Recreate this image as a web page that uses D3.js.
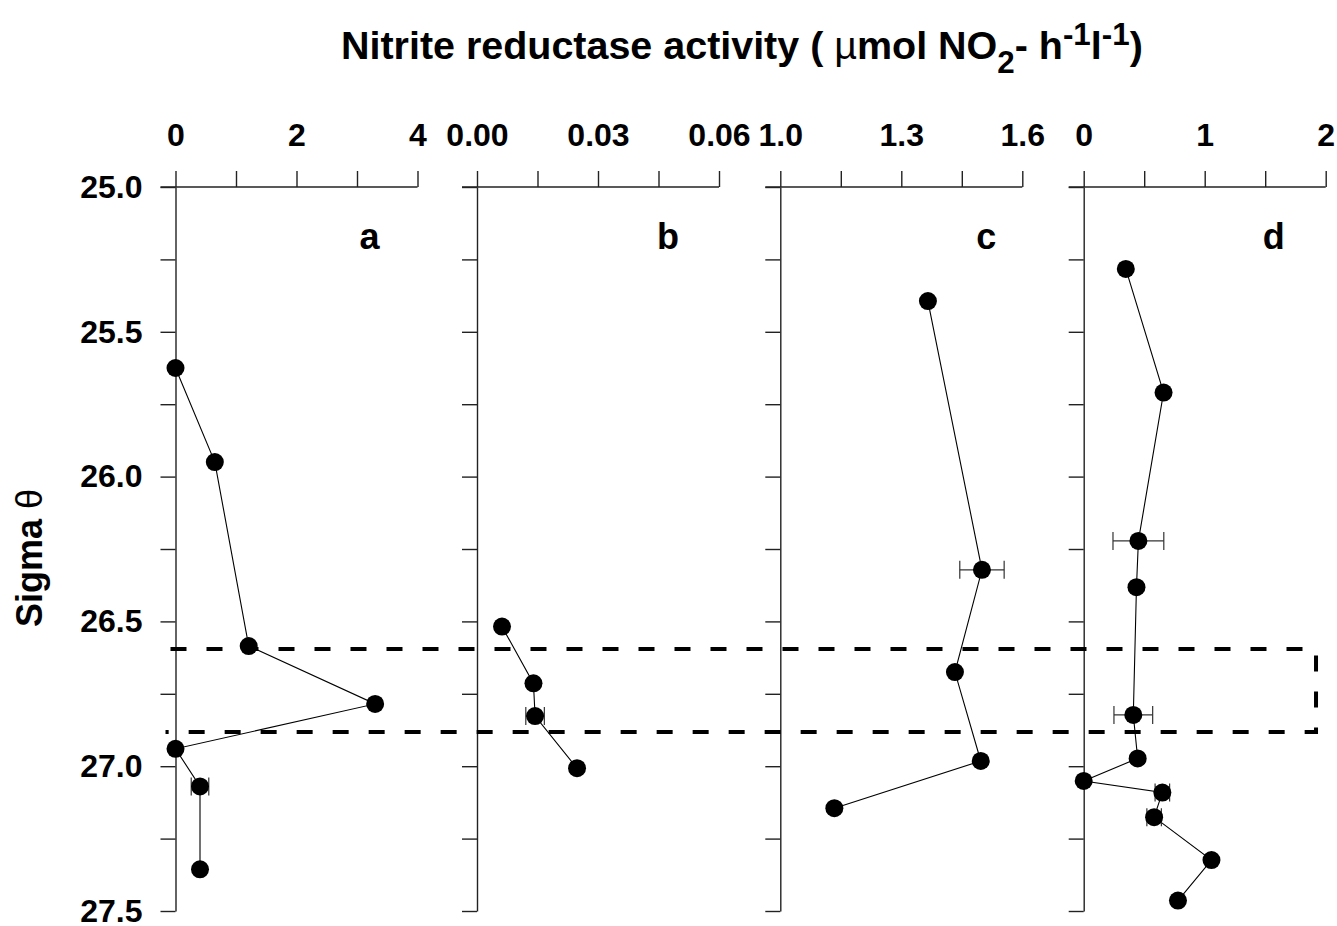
<!DOCTYPE html>
<html>
<head>
<meta charset="utf-8">
<script src="https://cdn.jsdelivr.net/npm/d3@7"></script>
<style>
  body { margin: 0; background: #fff; }
  svg { font-family: "Liberation Sans", Arial, sans-serif; }
</style>
</head>
<body>
<div id="chart"></div>
<script>
// sigma-theta depth axis
const yDomain = [25.0, 27.5];
const yTicks = [25.0, 25.25, 25.5, 25.75, 26.0, 26.25, 26.5, 26.75, 27.0, 27.25, 27.5];
const yLabels = [25.0, 25.5, 26.0, 26.5, 27.0, 27.5];

// panel a
const aSigma = [25.625, 25.95, 26.585, 26.785, 26.94, 27.07, 27.356];
const aValue = [0, 0.65, 1.21, 3.30, 0, 0.405, 0.405];
const aErr   = [0, 0, 0, 0, 0, 0.145, 0];

// panel b
const bSigma = [26.518, 26.714, 26.827, 27.007];
const bValue = [0.0062, 0.014, 0.0144, 0.0248];
const bErr   = [0, 0, 0.0023, 0];

// panel c
const cSigma = [25.394, 26.322, 26.675, 26.982, 27.145];
const cValue = [1.366, 1.500, 1.433, 1.497, 1.134];
const cErr   = [0, 0.055, 0, 0, 0];

// panel d
const dSigma = [25.283, 25.71, 26.222, 26.382, 26.823, 26.973, 27.051, 27.091, 27.176, 27.324, 27.464];
const dValue = [0.348, 0.66, 0.452, 0.436, 0.41, 0.446, 0, 0.65, 0.582, 1.056, 0.779];
const dErr   = [0, 0, 0.21, 0, 0.16, 0, 0, 0.06, 0.06, 0, 0];

// x axes
const panelNames = ['a', 'b', 'c', 'd'];
const xDomains = [[0, 4], [0, 0.06], [1.0, 1.6], [0, 2]];
const xTicks = [
    [0, 1, 2, 3, 4],
    [0, 0.015, 0.03, 0.045, 0.06],
    [1.0, 1.15, 1.3, 1.45, 1.6],
    [0, 0.5, 1, 1.5, 2]
];
const xLabels = [
    ['0', '', '2', '', '4'],
    ['0.00', '', '0.03', '', '0.06'],
    ['1.0', '', '1.3', '', '1.6'],
    ['0', '', '1', '', '2']
];

// suboxic layer marked by dashed box
const boxSigma = [26.595, 26.882];
const boxRight = 1.92; // in panel d units

const state = {
    width: 1337,
    height: 926,
    top: 187,
    bottom: 911,
    panelLeft: [175.5, 477, 780.3, 1083.7],
    panelWidth: 242,
    labelDx: [194, 191, 206, 190],
    ink: '#000',
    axisColor: '#222'
};

const panels = [
    {sigma: aSigma, value: aValue, err: aErr},
    {sigma: bSigma, value: bValue, err: bErr},
    {sigma: cSigma, value: cValue, err: cErr},
    {sigma: dSigma, value: dValue, err: dErr}
];

const svg = d3.select('#chart')
    .append('svg')
        .attr('width', state.width)
        .attr('height', state.height);

const y = d3.scaleLinear().domain(yDomain).range([state.top, state.bottom]);

let xScales = [];

panels.forEach((p, i) => {
    let left = state.panelLeft[i];
    let x = d3.scaleLinear().domain(xDomains[i]).range([left, left + state.panelWidth]);
    xScales.push(x);

    let g = svg.append('g');

    // top axis
    let xAxis = d3.axisTop(x)
        .tickValues(xTicks[i])
        .tickFormat((d, k) => xLabels[i][k])
        .tickSize(16)
        .tickSizeOuter(0)
        .tickPadding(25);
    let gx = g.append('g')
        .attr('transform', `translate(0,${state.top})`)
        .call(xAxis);
    gx.select('.domain').remove();
    gx.append('line')
        .attr('x1', left - 15)
        .attr('x2', left + state.panelWidth)
        .attr('stroke', state.axisColor)
        .attr('stroke-width', 1.4);

    // left axis
    let yAxis = d3.axisLeft(y)
        .tickValues(yTicks)
        .tickFormat(d => (i == 0 && yLabels.includes(d)) ? d3.format('.1f')(d) : '')
        .tickSize(15)
        .tickSizeOuter(0)
        .tickPadding(18);
    let gy = g.append('g')
        .attr('transform', `translate(${left},0)`)
        .call(yAxis);

    [gx, gy].forEach(a => {
        a.selectAll('line').attr('stroke', state.axisColor).attr('stroke-width', 1.4);
        a.select('.domain').attr('stroke', state.axisColor).attr('stroke-width', 1.4);
        a.selectAll('text')
            .attr('fill', state.ink)
            .style('font-size', '32px')
            .style('font-weight', 'bold')
            .style('font-family', '"Liberation Sans", Arial, sans-serif');
    });

    // panel letter
    g.append('text')
        .attr('x', left + state.labelDx[i])
        .attr('y', 249)
        .attr('text-anchor', 'middle')
        .style('font-size', '36px')
        .style('font-weight', 'bold')
        .text(panelNames[i]);

    let pts = p.sigma.map((s, k) => ({s: s, v: p.value[k], e: p.err[k]}));

    // profile line
    g.append('path')
        .datum(pts)
        .attr('d', d3.line().x(d => x(d.v)).y(d => y(d.s)))
        .attr('fill', 'none')
        .attr('stroke', state.ink)
        .attr('stroke-width', 1.1);

    // error bars
    let eb = g.selectAll('.err')
        .data(pts.filter(d => d.e > 0))
        .enter()
        .append('g')
            .attr('class', 'err')
            .attr('stroke', '#333')
            .attr('stroke-width', 1.2);
    eb.append('line')
        .attr('x1', d => x(d.v - d.e))
        .attr('x2', d => x(d.v + d.e))
        .attr('y1', d => y(d.s))
        .attr('y2', d => y(d.s));
    [-1, 1].forEach(sgn => {
        eb.append('line')
            .attr('x1', d => x(d.v + sgn * d.e))
            .attr('x2', d => x(d.v + sgn * d.e))
            .attr('y1', d => y(d.s) - 9)
            .attr('y2', d => y(d.s) + 9);
    });

    // markers
    g.selectAll('circle')
        .data(pts)
        .enter()
        .append('circle')
            .attr('cx', d => x(d.v))
            .attr('cy', d => y(d.s))
            .attr('r', 9)
            .attr('fill', state.ink);
});

// dashed box across all panels
let yU = y(boxSigma[0]), yL = y(boxSigma[1]);
let xR = xScales[3](boxRight);
svg.append('path')
    .attr('d', `M${xScales[0](0) - 5},${yU}H${xR}V${yL}H${xScales[0](0) - 10}`)
    .attr('fill', 'none')
    .attr('stroke', state.ink)
    .attr('stroke-width', 4)
    .attr('stroke-dasharray', '16,20');

// title
let title = svg.append('text')
    .attr('x', 0)
    .attr('y', 0)
    .style('font-size', '39px')
    .style('font-weight', 'bold');
title.append('tspan').text('Nitrite reductase activity ( ');
title.append('tspan').style('font-weight', 'normal').text('\u00b5');
title.append('tspan').text('mol NO');
title.append('tspan').attr('dy', 14).style('font-size', '31px').text('2');
title.append('tspan').attr('dy', -14).text('- h');
title.append('tspan').attr('dy', -14).style('font-size', '31px').text('-1');
title.append('tspan').attr('dy', 14).text('l');
title.append('tspan').attr('dy', -14).style('font-size', '31px').text('-1');
title.append('tspan').attr('dy', 14).text(')');
let tw = title.node().getBBox().width;
title.attr('transform', `translate(341,59) scale(${802 / tw},1)`);

// y title
let ylab = svg.append('text')
    .attr('transform', 'translate(42,627) rotate(-90)')
    .style('font-size', '36px')
    .style('font-weight', 'bold');
ylab.append('tspan').text('Sigma ');
ylab.append('tspan').style('font-weight', 'normal').text('\u03b8');
</script>
</body>
</html>
